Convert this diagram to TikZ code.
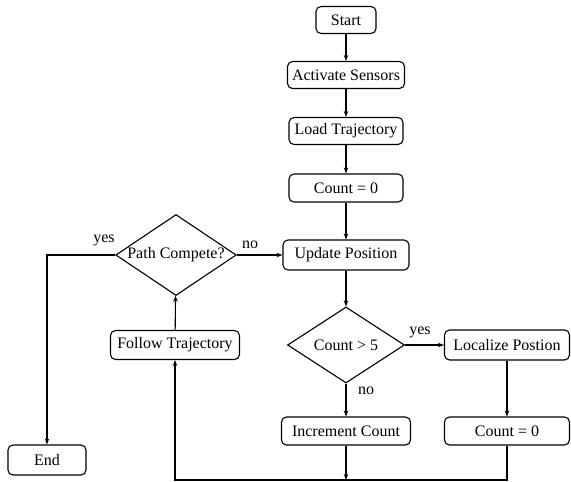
\documentclass[tikz,border=0pt]{standalone}
\usepackage{fontspec}
\setmainfont{Liberation Serif}
\usetikzlibrary{shapes.geometric,arrows.meta}

\begin{document}
\begin{tikzpicture}[x=1pt,y=-1pt,line width=1.1pt,
	box/.style={draw,rounded corners=5pt,inner sep=1pt,minimum height=28pt,font=\fontsize{16}{19}\selectfont},
	test/.style={draw,diamond,aspect=1.5,inner sep=0.3pt,minimum width=117pt,minimum height=78pt,font=\fontsize{16}{19}\selectfont},
	lab/.style={font=\fontsize{16}{19}\selectfont},
	>={Stealth[length=6pt,width=4.5pt]}]
	\useasboundingbox (0,0) rectangle (571,482);
	\def\t{346}
	\node[box,minimum width=60pt,minimum height=27pt] (start) at (\t,20) {Start};
	\node[box,minimum width=117pt,minimum height=27pt] (sens) at (\t,75) {Activate Sensors};
	\node[box,minimum width=114pt,minimum height=27pt] (load) at (\t,131) {Load Trajectory};
	\node[box,minimum width=114pt] (zero) at (\t,188) {Count = 0};
	\node[box,minimum width=126pt,minimum height=30pt] (upd) at (\t,255) {Update Position};
	\node[test,minimum height=76pt] (cnt) at (\t,345) {Count > 5};
	\node[box,minimum width=125pt,minimum height=30pt] (loc) at (507,345) {Localize Postion};
	\node[box,minimum width=129pt] (inc) at (\t,431) {Increment Count};
	\node[box,minimum width=125pt] (zerob) at (507,431) {Count = 0};
	\node[box,minimum width=129pt,minimum height=29pt] (fol) at (175,345) {Follow Trajectory};
	\node[test,minimum height=81pt] (done) at (176,255) {Path Compete?};
	\node[box,minimum width=78pt,minimum height=30pt] (end) at (47,460) {End};
	\coordinate (bot) at (0,480);
	% main column
	\draw[->] (start) -- (sens);
	\draw[->] (sens) -- (load);
	\draw[->] (load) -- (zero);
	\draw[->] (zero) -- (upd);
	\draw[->] (upd) -- (cnt);
	\draw[->] (cnt) -- (loc);
	\draw[->] (cnt) -- (inc);
	\draw[->] (loc) -- (zerob);
	\node[lab] at (420,332) {yes};
	\node[lab] at (366,391) {no};
	% loop back
	\draw[->] (inc.south) -- (inc.south |- bot);
	\draw[->] (zerob.south) -- (zerob.south |- bot) -- (fol.south |- bot) -- (fol.south);
	\draw[->] (fol) -- (done);
	\draw[->] (done.east) -- (upd.west);
	\draw[->] (done.west) -| (end.north);
	\node[lab] at (104,240) {yes};
	\node[lab] at (250,245) {no};
\end{tikzpicture}
\end{document}
